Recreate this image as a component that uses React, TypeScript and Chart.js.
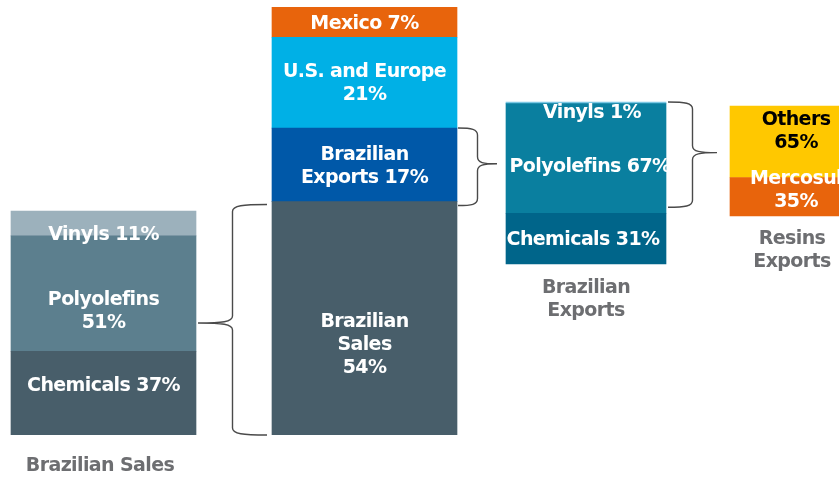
import React, { useEffect, useRef } from "react";
import { Chart, registerables } from "chart.js";

Chart.register(...registerables);

// ---------- data ----------
const barCaptions = ["Brazilian Sales", "", "Brazilian\nExports", "Resins\nExports"];

const salesSegments = ["Chemicals", "Polyolefins", "Vinyls"];
const salesShares = [37, 51, 11];

const totalSegments = ["Brazilian Sales", "Brazilian Exports", "U.S. and Europe", "Mexico"];
const totalShares = [54, 17, 21, 7];

const exportSegments = ["Chemicals", "Polyolefins", "Vinyls"];
const exportShares = [31, 67, 1];

const resinSegments = ["Mercosul", "Others"];
const resinShares = [35, 65];

// ---------- layout / style ----------
const W = 839;
const H = 479;
const AREA_TOP = 7;
const AREA_BOTTOM = 435;
const FONT = "bold 19px 'DejaVu Sans', sans-serif";
const LETTER_SPACING = "-0.6px";
const LINE = 23;
const CAPTION_COLOR = "#6d6e71";
const BRACE_COLOR = "#4a4a4a";

type Wrap = "one" | "value" | "first" | "words";

interface BarSpec {
  segments: string[];
  shares: number[];
  center: number;
  width: number;
  top: number;
  bottom: number;
  colors: string[];
  wraps: Wrap[];
  dys: number[];
  dxs: number[];
  textColors: string[];
  caption: string;
  captionDx: number;
  captionDy: number;
}

const bars: BarSpec[] = [
  {
    segments: salesSegments, shares: salesShares,
    center: 103.5, width: 185, top: 211, bottom: 435,
    colors: ["#485e6a", "#5c7f8e", "#9cb1bc"],
    wraps: ["one", "value", "one"],
    dys: [-7.5, 17.5, 12], dxs: [0, 0, 0],
    textColors: ["#ffffff", "#ffffff", "#ffffff"],
    caption: barCaptions[0], captionDx: -3.5, captionDy: 31,
  },
  {
    segments: totalSegments, shares: totalShares,
    center: 364.5, width: 185, top: 7, bottom: 435,
    colors: ["#485e6a", "#0058a8", "#00b0e6", "#e8640c"],
    wraps: ["words", "first", "value", "one"],
    dys: [27, 2, 0.5, 1.5], dxs: [0, 0, 0, 0],
    textColors: ["#ffffff", "#ffffff", "#ffffff", "#ffffff"],
    caption: barCaptions[1], captionDx: 0, captionDy: 30,
  },
  {
    segments: exportSegments, shares: exportShares,
    center: 586, width: 160, top: 102, bottom: 264,
    colors: ["#00658a", "#0a7f9f", "#7cc8e4"],
    wraps: ["one", "one", "one"],
    dys: [1.5, 8.5, 10], dxs: [-3, 4, 6],
    textColors: ["#ffffff", "#ffffff", "#ffffff"],
    caption: barCaptions[2], captionDx: 0, captionDy: 24,
  },
  {
    segments: resinSegments, shares: resinShares,
    center: 795, width: 130, top: 106, bottom: 216,
    colors: ["#e8640c", "#ffc800"],
    wraps: ["value", "value"],
    dys: [-6.5, -10], dxs: [1, 1],
    textColors: ["#ffffff", "#000000"],
    caption: barCaptions[3], captionDx: -3, captionDy: 23,
  },
];

function labelLines(name: string, share: number, wrap: Wrap): string[] {
  const v = `${share}%`;
  if (wrap === "one") return [`${name} ${v}`];
  if (wrap === "value") return [name, v];
  const words = name.split(" ");
  if (wrap === "first") return [words[0], `${words.slice(1).join(" ")} ${v}`];
  return [...words, v];
}

function axisRange(b: BarSpec) {
  const total = b.shares.reduce((a, c) => a + c, 0);
  const s = (b.bottom - b.top) / total;
  const min = -(AREA_BOTTOM - b.bottom) / s;
  const max = min + (AREA_BOTTOM - AREA_TOP) / s;
  return { min, max };
}

function drawBrace(
  ctx: CanvasRenderingContext2D,
  xEnd: number, xTip: number, yTop: number, yBot: number, yTip: number
) {
  const xv = (xEnd + xTip) / 2;
  const r = 7;
  ctx.beginPath();
  ctx.moveTo(xEnd, yTop);
  ctx.bezierCurveTo(xv + (xEnd - xv) * 0.3, yTop, xv, yTop + 1, xv, yTop + r);
  ctx.lineTo(xv, yTip - r);
  ctx.bezierCurveTo(xv, yTip - 1, xv + (xTip - xv) * 0.3, yTip, xTip, yTip);
  ctx.bezierCurveTo(xv + (xTip - xv) * 0.3, yTip, xv, yTip + 1, xv, yTip + r);
  ctx.lineTo(xv, yBot - r);
  ctx.bezierCurveTo(xv, yBot - 1, xv + (xEnd - xv) * 0.3, yBot, xEnd, yBot);
  ctx.stroke();
}

export default function App() {
  const ref = useRef<HTMLCanvasElement | null>(null);

  useEffect(() => {
    if (!ref.current) return;

    const dsIndex: number[][] = [];
    const datasets: any[] = [];
    bars.forEach((b, i) => {
      dsIndex.push([]);
      b.segments.forEach((name, j) => {
        dsIndex[i].push(datasets.length);
        datasets.push({
          label: name,
          data: [{ x: b.center, y: b.shares[j] }],
          xAxisID: "x",
          yAxisID: `y${i}`,
          stack: `s${i}`,
          backgroundColor: b.colors[j],
          borderWidth: 0,
          grouped: false,
          barThickness: b.width,
          maxBarThickness: b.width,
        });
      });
    });

    const scales: any = {
      x: {
        type: "linear",
        display: false,
        min: 0,
        max: W,
        offset: false,
        grid: { display: false },
        afterBuildTicks: (scale: any) => {
          scale.ticks = [{ value: 0 }, { value: W }];
        },
      },
    };
    bars.forEach((b, i) => {
      const { min, max } = axisRange(b);
      scales[`y${i}`] = {
        type: "linear",
        display: false,
        stacked: true,
        min,
        max,
        grid: { display: false },
      };
    });

    const overlay = {
      id: "overlay",
      afterDatasetsDraw(chart: any) {
        const ctx: CanvasRenderingContext2D = chart.ctx;
        const els = dsIndex.map((row) => row.map((k) => chart.getDatasetMeta(k).data[0]));
        const geo = els.map((row) => {
          const first = row[0];
          const last = row[row.length - 1];
          return {
            left: first.x - first.width / 2,
            right: first.x + first.width / 2,
            top: last.y,
            bottom: first.base,
            cx: first.x,
          };
        });

        ctx.save();
        ctx.font = FONT;
        (ctx as any).letterSpacing = LETTER_SPACING;
        ctx.textAlign = "center";
        ctx.textBaseline = "middle";
        // segment labels
        bars.forEach((b, i) => {
          b.segments.forEach((name, j) => {
            const el = els[i][j];
            const lines = labelLines(name, b.shares[j], b.wraps[j]);
            const cy = (el.y + el.base) / 2 + b.dys[j];
            const y0 = cy - ((lines.length - 1) * LINE) / 2;
            ctx.fillStyle = b.textColors[j];
            lines.forEach((ln, k) => ctx.fillText(ln, el.x + b.dxs[j], y0 + k * LINE));
          });
        });

        // captions
        ctx.fillStyle = CAPTION_COLOR;
        bars.forEach((b, i) => {
          if (!b.caption) return;
          const lines = b.caption.split("\n");
          lines.forEach((ln, k) =>
            ctx.fillText(ln, geo[i].cx + b.captionDx, geo[i].bottom + b.captionDy + k * LINE)
          );
        });

        // braces
        ctx.strokeStyle = BRACE_COLOR;
        ctx.lineWidth = 1.4;
        {
          const span = els[1][0];
          drawBrace(ctx, geo[1].left - 5, geo[0].right + 2, span.y + 3, span.base,
            (geo[0].top + geo[0].bottom) / 2);
        }
        {
          const span = els[1][1];
          drawBrace(ctx, geo[1].right + 1, geo[2].left - 9, span.y, span.base + 4,
            (span.y + span.base) / 2 - 1);
        }
        {
          const yTop = els[2][2].y;
          const yBot = els[2][1].base - 6;
          drawBrace(ctx, geo[2].right + 2, geo[3].left - 13, yTop, yBot, (yTop + yBot) / 2 - 2);
        }
        ctx.restore();
      },
    };

    const chart = new Chart(ref.current, {
      type: "bar",
      data: { datasets },
      options: {
        responsive: false,
        animation: false,
        events: [],
        layout: { padding: { top: AREA_TOP, bottom: H - AREA_BOTTOM, left: 0, right: 0 } },
        scales,
        plugins: {
          legend: { display: false },
          tooltip: { enabled: false },
        },
      },
      plugins: [overlay],
    } as any);

    return () => chart.destroy();
  }, []);

  return (
    <div style={{ position: "fixed", left: 0, top: 0, width: W, height: H, background: "#ffffff" }}>
      <canvas ref={ref} width={W} height={H} style={{ display: "block" }} />
    </div>
  );
}
